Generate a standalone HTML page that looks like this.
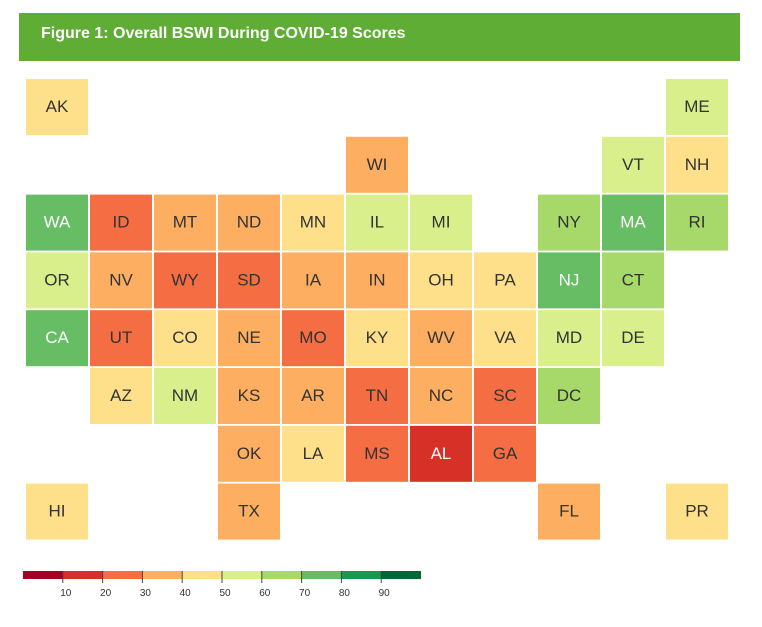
<!DOCTYPE html>
<html><head><meta charset="utf-8"><style>
body{margin:0;width:762px;height:627px;background:#fff;font-family:"Liberation Sans",Arial,sans-serif;position:relative;overflow:hidden}
#hdr{position:absolute;left:19px;top:13px;width:721px;height:48px;background:#5fad35;color:#fff;font-weight:bold;font-size:16px;line-height:41px;padding-left:22px;box-sizing:border-box}
</style></head><body>
<div id="hdr">Figure 1: Overall BSWI During COVID-19 Scores</div>
<svg id="map" width="762" height="627" style="position:absolute;left:0;top:0"></svg>
<script>
const states=["AK","ME","WI","VT","NH","WA","ID","MT","ND","MN","IL","MI","NY","MA","RI","OR","NV","WY","SD","IA","IN","OH","PA","NJ","CT","CA","UT","CO","NE","MO","KY","WV","VA","MD","DE","AZ","NM","KS","AR","TN","NC","SC","DC","OK","LA","MS","AL","GA","HI","TX","FL","PR"];
const cols=[0,10,5,9,10,0,1,2,3,4,5,6,8,9,10,0,1,2,3,4,5,6,7,8,9,0,1,2,3,4,5,6,7,8,9,1,2,3,4,5,6,7,8,3,4,5,6,7,0,3,8,10];
const rows=[0,0,1,1,1,2,2,2,2,2,2,2,2,2,2,3,3,3,3,3,3,3,3,3,3,4,4,4,4,4,4,4,4,4,4,5,5,5,5,5,5,5,5,6,6,6,6,6,7,7,7,7];
const scores=[45,55,35,55,45,75,25,35,35,45,55,55,65,75,65,55,35,25,25,35,35,45,45,75,65,75,25,45,35,25,45,35,45,55,55,45,55,35,35,25,35,25,65,35,45,25,15,25,45,35,35,45];
const legendTicks=[10,20,30,40,50,60,70,80,90];
const palette=["#a50026","#d73027","#f46d43","#fdae61","#fee08b","#d9ef8b","#a6d96a","#66bd63","#1a9850","#006837"];
const ns="http://www.w3.org/2000/svg",svg=document.getElementById("map");
const colX=c=>26+c*64, rowY=r=>79+r*57.8;
const color=v=>palette[Math.max(0,Math.min(9,Math.floor(v/10)))];
states.forEach((s,i)=>{
 const g=document.createElementNS(ns,"g");
 
 
 const r=document.createElementNS(ns,"rect");
 r.setAttribute("x",colX(cols[i]));r.setAttribute("y",rowY(rows[i]));
 r.setAttribute("width",62);r.setAttribute("height",56);r.setAttribute("fill",color(scores[i]));
 g.appendChild(r);
 const t=document.createElementNS(ns,"text");
 t.setAttribute("x",colX(cols[i])+31);t.setAttribute("y",rowY(rows[i])+33);
 t.setAttribute("text-anchor","middle");t.setAttribute("font-size","17");
 const v=scores[i];
 t.setAttribute("fill",(v>=70||v<20)?"#fff":"#333");
 t.textContent=s;g.appendChild(t);svg.appendChild(g);
});
const lx=v=>23+v*3.98;
const lg=document.createElementNS(ns,"g");


svg.appendChild(lg);
palette.forEach((c,i)=>{
 const r=document.createElementNS(ns,"rect");
 r.setAttribute("x",lx(i*10));r.setAttribute("y",571);r.setAttribute("width",lx(i*10+10)-lx(i*10));r.setAttribute("height",8);r.setAttribute("fill",c);
 
 
 lg.appendChild(r);
});
legendTicks.forEach(v=>{
 const l=document.createElementNS(ns,"line");
 l.setAttribute("x1",lx(v));l.setAttribute("x2",lx(v));l.setAttribute("y1",571);l.setAttribute("y2",583);l.setAttribute("stroke","#444");
 lg.appendChild(l);
 const t=document.createElementNS(ns,"text");
 t.setAttribute("x",lx(v)+3);t.setAttribute("y",596);t.setAttribute("text-anchor","middle");t.setAttribute("font-size","10");t.setAttribute("fill","#333");
 
 
 t.textContent=v;lg.appendChild(t);
});
</script>
</body></html>
